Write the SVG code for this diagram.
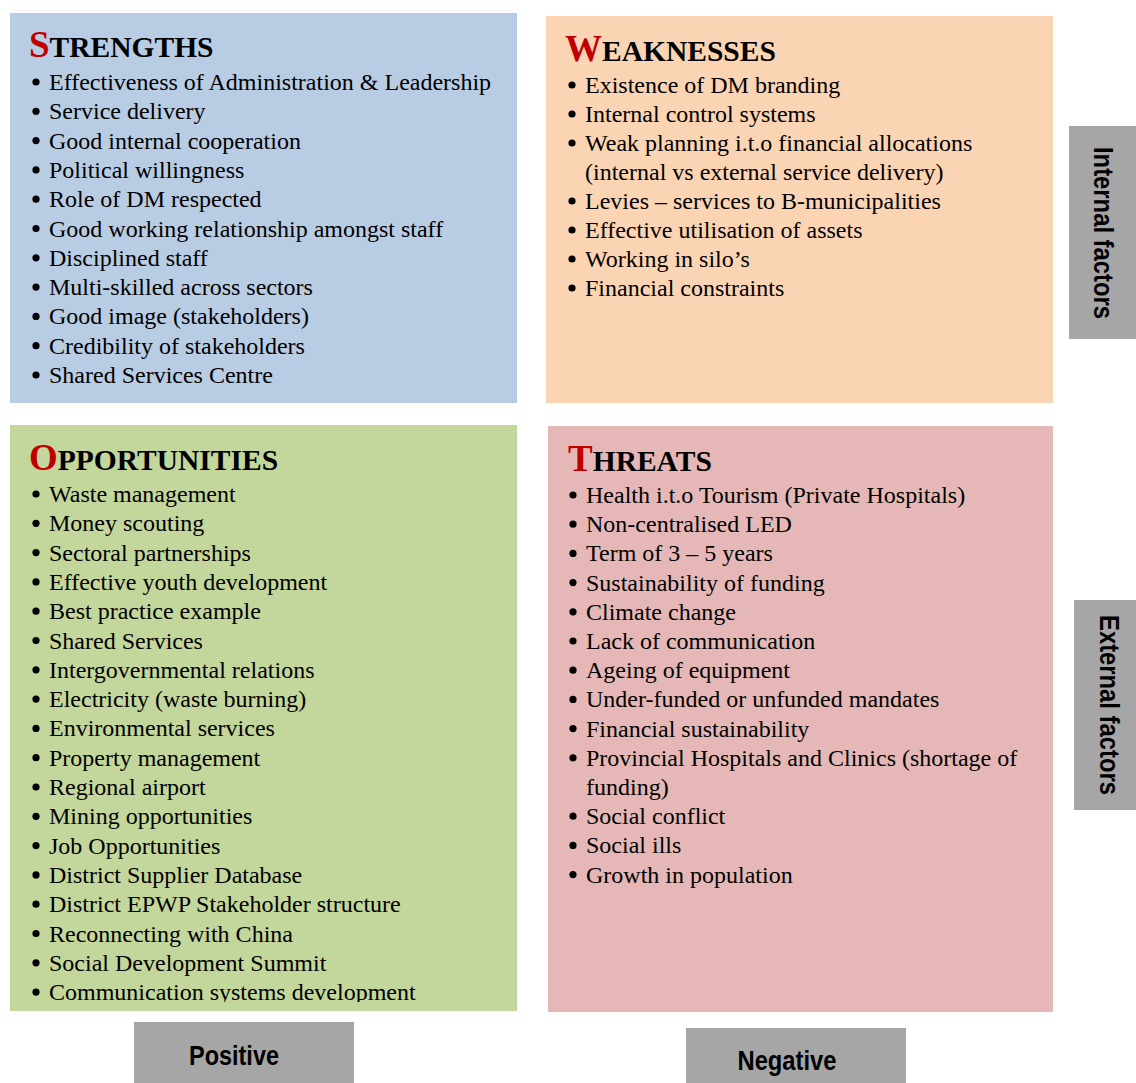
<svg xmlns="http://www.w3.org/2000/svg" width="1136" height="1083" viewBox="0 0 1136 1083">
<style>
  .item { font-family: "Liberation Serif", "Times New Roman", serif; font-size: 24px; fill: #000; }
  .head { font-family: "Liberation Serif", "Times New Roman", serif; font-weight: bold; font-size: 29.5px; fill: #000; }
  .cap { font-size: 37px; fill: #C00000; }
  .lbl { font-family: "Liberation Sans", Arial, sans-serif; font-weight: bold; font-size: 28px; fill: #000; }
  .gray { fill: #A6A6A6; }
  .dot { fill: #000; }
</style>
<defs>
  <clipPath id="oppClip"><rect x="10" y="425" width="507" height="577"/></clipPath>
</defs>
<rect width="1136" height="1083" fill="#FFFFFF"/>

<g id="strengths">
  <rect x="10" y="13" width="507" height="390" fill="#B8CCE4"/>
  <text class="head" x="29" y="57"><tspan class="cap">S</tspan>TRENGTHS</text>
  <g>
    <circle class="dot" cx="36" cy="82" r="3.6"/>
    <circle class="dot" cx="36" cy="111.3" r="3.6"/>
    <circle class="dot" cx="36" cy="140.6" r="3.6"/>
    <circle class="dot" cx="36" cy="169.9" r="3.6"/>
    <circle class="dot" cx="36" cy="199.2" r="3.6"/>
    <circle class="dot" cx="36" cy="228.5" r="3.6"/>
    <circle class="dot" cx="36" cy="257.8" r="3.6"/>
    <circle class="dot" cx="36" cy="287.1" r="3.6"/>
    <circle class="dot" cx="36" cy="316.4" r="3.6"/>
    <circle class="dot" cx="36" cy="345.7" r="3.6"/>
    <circle class="dot" cx="36" cy="375" r="3.6"/>
  </g>
  <text class="item" x="49" y="90">Effectiveness of Administration &amp; Leadership</text>
  <text class="item" x="49" y="119.3">Service delivery</text>
  <text class="item" x="49" y="148.6">Good internal cooperation</text>
  <text class="item" x="49" y="177.9">Political willingness</text>
  <text class="item" x="49" y="207.2">Role of DM respected</text>
  <text class="item" x="49" y="236.5">Good working relationship amongst staff</text>
  <text class="item" x="49" y="265.8">Disciplined staff</text>
  <text class="item" x="49" y="295.1">Multi-skilled across sectors</text>
  <text class="item" x="49" y="324.4">Good image (stakeholders)</text>
  <text class="item" x="49" y="353.7">Credibility of stakeholders</text>
  <text class="item" x="49" y="383">Shared Services Centre</text>
</g>

<g id="weaknesses">
  <rect x="546" y="16" width="507" height="387" fill="#FBD4B4"/>
  <text class="head" x="565" y="61"><tspan class="cap">W</tspan>EAKNESSES</text>
  <g>
    <circle class="dot" cx="572" cy="85" r="3.6"/>
    <circle class="dot" cx="572" cy="114" r="3.6"/>
    <circle class="dot" cx="572" cy="143" r="3.6"/>
    <circle class="dot" cx="572" cy="201" r="3.6"/>
    <circle class="dot" cx="572" cy="230" r="3.6"/>
    <circle class="dot" cx="572" cy="259" r="3.6"/>
    <circle class="dot" cx="572" cy="288" r="3.6"/>
  </g>
  <text class="item" x="585" y="93">Existence of DM branding</text>
  <text class="item" x="585" y="122">Internal control systems</text>
  <text class="item" x="585" y="151">Weak planning i.t.o financial allocations</text>
  <text class="item" x="585" y="180">(internal vs external service delivery)</text>
  <text class="item" x="585" y="209">Levies – services to B-municipalities</text>
  <text class="item" x="585" y="238">Effective utilisation of assets</text>
  <text class="item" x="585" y="267">Working in silo’s</text>
  <text class="item" x="585" y="296">Financial constraints</text>
</g>

<g id="opportunities">
  <rect x="10" y="425" width="507" height="586" fill="#C3D69B"/>
  <text class="head" x="29" y="470"><tspan class="cap">O</tspan>PPORTUNITIES</text>
  <g clip-path="url(#oppClip)">
    <circle class="dot" cx="36" cy="494" r="3.6"/>
    <circle class="dot" cx="36" cy="523.3" r="3.6"/>
    <circle class="dot" cx="36" cy="552.6" r="3.6"/>
    <circle class="dot" cx="36" cy="581.9" r="3.6"/>
    <circle class="dot" cx="36" cy="611.2" r="3.6"/>
    <circle class="dot" cx="36" cy="640.5" r="3.6"/>
    <circle class="dot" cx="36" cy="669.8" r="3.6"/>
    <circle class="dot" cx="36" cy="699.1" r="3.6"/>
    <circle class="dot" cx="36" cy="728.4" r="3.6"/>
    <circle class="dot" cx="36" cy="757.7" r="3.6"/>
    <circle class="dot" cx="36" cy="787" r="3.6"/>
    <circle class="dot" cx="36" cy="816.3" r="3.6"/>
    <circle class="dot" cx="36" cy="845.6" r="3.6"/>
    <circle class="dot" cx="36" cy="874.9" r="3.6"/>
    <circle class="dot" cx="36" cy="904.2" r="3.6"/>
    <circle class="dot" cx="36" cy="933.5" r="3.6"/>
    <circle class="dot" cx="36" cy="962.8" r="3.6"/>
    <circle class="dot" cx="36" cy="992.1" r="3.6"/>
    <text class="item" x="49" y="502">Waste management</text>
    <text class="item" x="49" y="531.3">Money scouting</text>
    <text class="item" x="49" y="560.6">Sectoral partnerships</text>
    <text class="item" x="49" y="589.9">Effective youth development</text>
    <text class="item" x="49" y="619.2">Best practice example</text>
    <text class="item" x="49" y="648.5">Shared Services</text>
    <text class="item" x="49" y="677.8">Intergovernmental relations</text>
    <text class="item" x="49" y="707.1">Electricity (waste burning)</text>
    <text class="item" x="49" y="736.4">Environmental services</text>
    <text class="item" x="49" y="765.7">Property management</text>
    <text class="item" x="49" y="795">Regional airport</text>
    <text class="item" x="49" y="824.3">Mining opportunities</text>
    <text class="item" x="49" y="853.6">Job Opportunities</text>
    <text class="item" x="49" y="882.9">District Supplier Database</text>
    <text class="item" x="49" y="912.2">District EPWP Stakeholder structure</text>
    <text class="item" x="49" y="941.5">Reconnecting with China</text>
    <text class="item" x="49" y="970.8">Social Development Summit</text>
    <text class="item" x="49" y="1000">Communication systems development</text>
  </g>
</g>

<g id="threats">
  <rect x="548" y="426" width="505" height="586" fill="#E5B8B7"/>
  <text class="head" x="568" y="471"><tspan class="cap">T</tspan>HREATS</text>
  <g>
    <circle class="dot" cx="573" cy="495" r="3.6"/>
    <circle class="dot" cx="573" cy="524.2" r="3.6"/>
    <circle class="dot" cx="573" cy="553.4" r="3.6"/>
    <circle class="dot" cx="573" cy="582.6" r="3.6"/>
    <circle class="dot" cx="573" cy="611.8" r="3.6"/>
    <circle class="dot" cx="573" cy="641" r="3.6"/>
    <circle class="dot" cx="573" cy="670.2" r="3.6"/>
    <circle class="dot" cx="573" cy="699.4" r="3.6"/>
    <circle class="dot" cx="573" cy="728.6" r="3.6"/>
    <circle class="dot" cx="573" cy="757.8" r="3.6"/>
    <circle class="dot" cx="573" cy="816.2" r="3.6"/>
    <circle class="dot" cx="573" cy="845.4" r="3.6"/>
    <circle class="dot" cx="573" cy="874.6" r="3.6"/>
  </g>
  <text class="item" x="586" y="503">Health i.t.o Tourism (Private Hospitals)</text>
  <text class="item" x="586" y="532.2">Non-centralised LED</text>
  <text class="item" x="586" y="561.4">Term of 3 – 5 years</text>
  <text class="item" x="586" y="590.6">Sustainability of funding</text>
  <text class="item" x="586" y="619.8">Climate change</text>
  <text class="item" x="586" y="649">Lack of communication</text>
  <text class="item" x="586" y="678.2">Ageing of equipment</text>
  <text class="item" x="586" y="707.4">Under-funded or unfunded mandates</text>
  <text class="item" x="586" y="736.6">Financial sustainability</text>
  <text class="item" x="586" y="765.8">Provincial Hospitals and Clinics (shortage of</text>
  <text class="item" x="586" y="795">funding)</text>
  <text class="item" x="586" y="824.2">Social conflict</text>
  <text class="item" x="586" y="853.4">Social ills</text>
  <text class="item" x="586" y="882.6">Growth in population</text>
</g>

<g id="internal-factors">
  <rect class="gray" x="1069" y="126" width="67" height="213"/>
  <text class="lbl" transform="translate(1104,233) rotate(90)" x="0" y="10" text-anchor="middle" textLength="172" lengthAdjust="spacingAndGlyphs">Internal factors</text>
</g>

<g id="external-factors">
  <rect class="gray" x="1074" y="600" width="62" height="210"/>
  <text class="lbl" transform="translate(1110,705) rotate(90)" x="0" y="10" text-anchor="middle" textLength="180" lengthAdjust="spacingAndGlyphs">External factors</text>
</g>

<g id="positive">
  <rect class="gray" x="134" y="1022" width="220" height="61"/>
  <text class="lbl" x="234" y="1065" text-anchor="middle" textLength="90" lengthAdjust="spacingAndGlyphs">Positive</text>
</g>

<g id="negative">
  <rect class="gray" x="686" y="1028" width="220" height="55"/>
  <text class="lbl" x="787" y="1070" text-anchor="middle" textLength="99" lengthAdjust="spacingAndGlyphs">Negative</text>
</g>

<g id="connectors"></g>
</svg>
